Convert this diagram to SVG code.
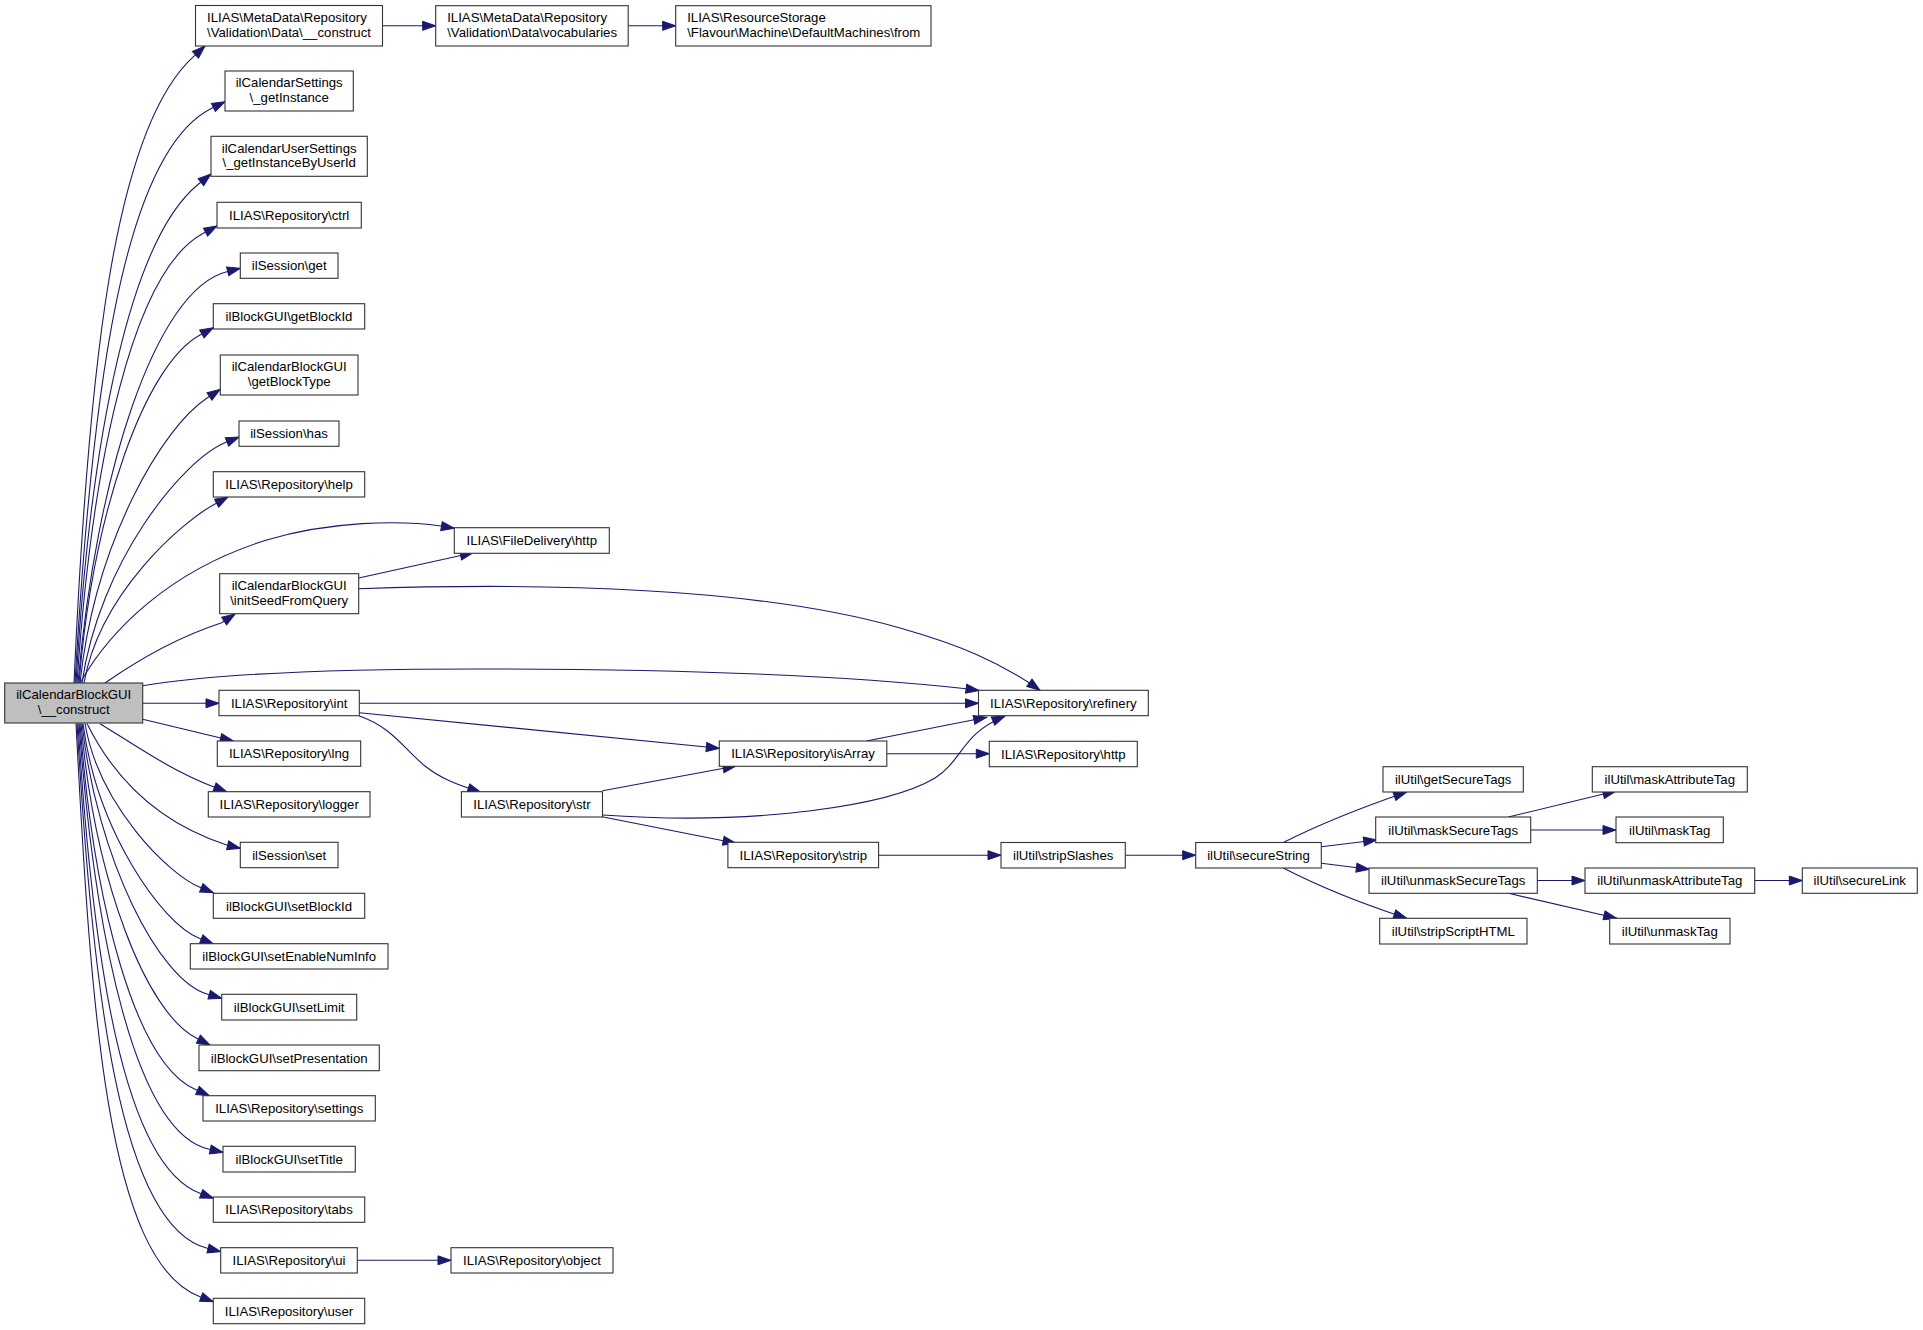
<svg xmlns="http://www.w3.org/2000/svg" width="1923" height="1330" viewBox="0 0 1923 1330">
<style>
.n rect{fill:#fff;stroke:#333;stroke-width:1.1}
.m rect{fill:#bfbfbf;stroke:#333;stroke-width:1.1}
text{font-family:"Liberation Sans",Arial,Helvetica,sans-serif;font-size:13.2px;fill:#000}
.c{text-anchor:middle}
.e path{fill:none;stroke:#191970;stroke-width:1.1;marker-end:url(#ah)}
</style>
<defs>
<marker id="ah" markerUnits="userSpaceOnUse" markerWidth="14" markerHeight="10" refX="13" refY="4.5" orient="auto" overflow="visible">
<path d="M0,0 L13,4.5 L0,9 Z" fill="#191970" stroke="#191970" stroke-width="1"/>
</marker>
</defs>
<rect width="1923" height="1330" fill="#fff"/>
<g class="e" id="edges">
<path d="M382.7,25.8 L435.7,25.8"/>
<path d="M628.2,25.8 L675.7,25.8"/>
<path d="M74,683 C88.2,370.1 113.2,130.4 192.7,57.3 L205,46"/>
<path d="M75,683 C91.4,395.7 121.7,152.9 211.7,108.3 L225,101.7"/>
<path d="M76,683 C90.7,433.7 130.5,239.3 198.3,184.3 L211,174"/>
<path d="M77,683 C92.2,458.2 133.2,270.6 203.3,233.3 L217,226"/>
<path d="M78,683 C95.8,477.4 154.5,289.8 226.7,271.7 L240.3,268.3"/>
<path d="M79,683 C93.5,509 145.1,365.1 200,335 L213.3,327.7"/>
<path d="M80,683 C95.2,540.7 162.5,427.6 206.7,398.3 L220.3,389.3"/>
<path d="M82,683 C99.3,562.7 181.8,460.3 226,442.3 L239,437"/>
<path d="M84,683 C99.7,593.5 181.8,521.9 215,504 L228,497"/>
<path d="M80,683 C110,630 170,570 266.7,540 C330,521 400,520 441,526 L454.3,528.3"/>
<path d="M105,683 C135,662 175,638 221.7,622.7 L235,614"/>
<path d="M142.7,685.7 C200,676 300,669 480,669 C700,669 850,676 966,688.7 L979,690.5"/>
<path d="M142.7,703.3 L219,703.3"/>
<path d="M142.7,719.3 L233.3,741"/>
<path d="M100,723.7 C135,745 170,770 213.3,786.7 L226.7,791.7"/>
<path d="M87,723.5 C110,770 150,820 226.7,845 L240.3,848.3"/>
<path d="M85,723.5 C98.8,805.4 168.5,874.5 200,887.3 L213.3,892.7"/>
<path d="M83,723.5 C97,830.9 160.9,922.7 199.3,938.3 L213.3,944"/>
<path d="M82,723.5 C97.1,858.9 158.8,980.3 207.7,994.3 L221.7,998.3"/>
<path d="M81,723.5 C94.9,880.9 145.8,1012.6 196.7,1038.3 L210,1045"/>
<path d="M80,723.5 C93.8,906.4 135.5,1062.7 195,1089.3 L209.3,1095.7"/>
<path d="M79,723.5 C94.6,936.4 135.3,1133.1 209.3,1149.3 L223,1152.3"/>
<path d="M78,723.5 C92.6,958.4 122.8,1164.3 200,1193.3 L213.3,1198.3"/>
<path d="M77,723.5 C92.6,986 118.2,1225.7 207.3,1248.3 L220.7,1251.7"/>
<path d="M76,723.5 C90.9,1010.1 106.7,1261.6 200,1296.7 L213.3,1301.7"/>
<path d="M358.7,578 L473.3,552.7"/>
<path d="M358.7,588.7 C560,582 760,588 900,628 C960,645 1000,662 1040,690.3"/>
<path d="M359.3,703.3 L978.5,703.3"/>
<path d="M359.3,712.7 L719.3,748.3"/>
<path d="M359.3,716 C392,727 405,750 425,766 C440,778 455,784 480.7,792.3"/>
<path d="M357.3,1260.3 L451,1260.3"/>
<path d="M602.5,790.7 L736,766"/>
<path d="M602.5,815 C760,826 890,805 935,778 C965,758 960,735 1005,716"/>
<path d="M602,816.7 L736,843.3"/>
<path d="M866.4,741 L986.7,717.3"/>
<path d="M886.8,753.7 L989.3,753.7"/>
<path d="M878.6,855.2 L1001,855.2"/>
<path d="M1125.3,855.2 L1195.7,855.2"/>
<path d="M1283.3,842.5 C1320,824 1360,808 1406.7,792"/>
<path d="M1321.3,846.7 L1376.7,840"/>
<path d="M1321.3,863.3 L1369.3,869.3"/>
<path d="M1283.3,868 C1320,887 1360,903 1406.7,918.3"/>
<path d="M1508.3,817 L1616,791"/>
<path d="M1530.7,830 L1616,830"/>
<path d="M1537.3,880.5 L1585,880.5"/>
<path d="M1508.3,893.3 L1616.7,918.3"/>
<path d="M1754.7,880.5 L1802.3,880.5"/>
</g>
<g class="m" id="n_main"><rect x="4.7" y="683" width="138" height="40"/><text class="c" x="73.7" y="699.2">ilCalendarBlockGUI</text><text class="c" x="73.7" y="713.9">\__construct</text></g>
<g class="n" id="n_meta"><rect x="195.5" y="5.5" width="187" height="40.5"/><text x="207" y="21.9">ILIAS\MetaData\Repository</text><text x="207" y="36.6">\Validation\Data\__construct</text></g>
<g class="n" id="n_vocab"><rect x="435.7" y="5.7" width="192.5" height="40.3"/><text x="447.2" y="22">ILIAS\MetaData\Repository</text><text x="447.2" y="36.7">\Validation\Data\vocabularies</text></g>
<g class="n" id="n_from"><rect x="675.7" y="5.7" width="255.3" height="40.3"/><text x="687.2" y="22">ILIAS\ResourceStorage</text><text x="687.2" y="36.7">\Flavour\Machine\DefaultMachines\from</text></g>
<g class="n" id="n_calset"><rect x="225" y="71" width="128.3" height="40"/><text class="c" x="289.2" y="87.2">ilCalendarSettings</text><text class="c" x="289.2" y="101.9">\_getInstance</text></g>
<g class="n" id="n_caluser"><rect x="211" y="136.3" width="156.3" height="40"/><text class="c" x="289.2" y="152.5">ilCalendarUserSettings</text><text class="c" x="289.2" y="167.2">\_getInstanceByUserId</text></g>
<g class="n" id="n_ctrl"><rect x="217" y="202.3" width="144.3" height="25.7"/><text class="c" x="289.2" y="219.9">ILIAS\Repository\ctrl</text></g>
<g class="n" id="n_get"><rect x="240.3" y="253" width="97.7" height="25.3"/><text class="c" x="289.2" y="270.4">ilSession\get</text></g>
<g class="n" id="n_getBlockId"><rect x="213.3" y="303.7" width="151.4" height="25.3"/><text class="c" x="289" y="321.1">ilBlockGUI\getBlockId</text></g>
<g class="n" id="n_getBlockType"><rect x="220.3" y="355" width="137.7" height="40"/><text class="c" x="289.2" y="371.2">ilCalendarBlockGUI</text><text class="c" x="289.2" y="385.9">\getBlockType</text></g>
<g class="n" id="n_has"><rect x="239" y="421" width="100" height="25.3"/><text class="c" x="289" y="438.4">ilSession\has</text></g>
<g class="n" id="n_help"><rect x="213.3" y="471.7" width="151.4" height="25.3"/><text class="c" x="289" y="489.1">ILIAS\Repository\help</text></g>
<g class="n" id="n_initSeed"><rect x="219.7" y="573.7" width="139" height="40"/><text class="c" x="289.2" y="589.9">ilCalendarBlockGUI</text><text class="c" x="289.2" y="604.6">\initSeedFromQuery</text></g>
<g class="n" id="n_int"><rect x="219" y="690.3" width="140.3" height="25.4"/><text class="c" x="289.2" y="707.7">ILIAS\Repository\int</text></g>
<g class="n" id="n_lng"><rect x="217.3" y="741" width="143.4" height="25.3"/><text class="c" x="289" y="758.4">ILIAS\Repository\lng</text></g>
<g class="n" id="n_logger"><rect x="208.3" y="791.7" width="161.7" height="25.3"/><text class="c" x="289.2" y="809.1">ILIAS\Repository\logger</text></g>
<g class="n" id="n_set"><rect x="240.3" y="842.3" width="97.7" height="25.4"/><text class="c" x="289.2" y="859.7">ilSession\set</text></g>
<g class="n" id="n_setBlockId"><rect x="213.3" y="893.3" width="151.4" height="25"/><text class="c" x="289" y="910.5">ilBlockGUI\setBlockId</text></g>
<g class="n" id="n_setEnable"><rect x="190.3" y="943.7" width="197.7" height="25.3"/><text class="c" x="289.2" y="961.1">ilBlockGUI\setEnableNumInfo</text></g>
<g class="n" id="n_setLimit"><rect x="221.7" y="994.3" width="135" height="25.7"/><text class="c" x="289.2" y="1011.9">ilBlockGUI\setLimit</text></g>
<g class="n" id="n_setPres"><rect x="199" y="1045" width="180.3" height="25.7"/><text class="c" x="289.2" y="1062.6">ilBlockGUI\setPresentation</text></g>
<g class="n" id="n_settings"><rect x="203" y="1095.7" width="172.3" height="25.3"/><text class="c" x="289.2" y="1113.1">ILIAS\Repository\settings</text></g>
<g class="n" id="n_setTitle"><rect x="223" y="1146.3" width="132.3" height="25.7"/><text class="c" x="289.2" y="1163.9">ilBlockGUI\setTitle</text></g>
<g class="n" id="n_tabs"><rect x="213.3" y="1197" width="151.4" height="25.3"/><text class="c" x="289" y="1214.4">ILIAS\Repository\tabs</text></g>
<g class="n" id="n_ui"><rect x="220.7" y="1247.7" width="136.6" height="25.3"/><text class="c" x="289" y="1265.1">ILIAS\Repository\ui</text></g>
<g class="n" id="n_user"><rect x="213.3" y="1298.3" width="151.4" height="25.4"/><text class="c" x="289" y="1315.7">ILIAS\Repository\user</text></g>
<g class="n" id="n_fdhttp"><rect x="454.3" y="527.7" width="155" height="25.6"/><text class="c" x="531.8" y="545.2">ILIAS\FileDelivery\http</text></g>
<g class="n" id="n_str"><rect x="461.4" y="791.7" width="141.1" height="25.3"/><text class="c" x="532" y="809.1">ILIAS\Repository\str</text></g>
<g class="n" id="n_object"><rect x="451" y="1247.7" width="162" height="25.3"/><text class="c" x="532" y="1265.1">ILIAS\Repository\object</text></g>
<g class="n" id="n_isArray"><rect x="719.3" y="741" width="167.5" height="25.3"/><text class="c" x="803" y="758.4">ILIAS\Repository\isArray</text></g>
<g class="n" id="n_strip"><rect x="727.9" y="842.3" width="150.7" height="25.4"/><text class="c" x="803.3" y="859.7">ILIAS\Repository\strip</text></g>
<g class="n" id="n_refinery"><rect x="978.5" y="690.3" width="169.8" height="25.4"/><text class="c" x="1063.4" y="707.7">ILIAS\Repository\refinery</text></g>
<g class="n" id="n_rhttp"><rect x="989.3" y="741.3" width="148" height="25.4"/><text class="c" x="1063.3" y="758.7">ILIAS\Repository\http</text></g>
<g class="n" id="n_stripSlashes"><rect x="1001" y="842.5" width="124.3" height="25.5"/><text class="c" x="1063.2" y="859.9">ilUtil\stripSlashes</text></g>
<g class="n" id="n_secureString"><rect x="1195.7" y="842.5" width="125.6" height="25.5"/><text class="c" x="1258.5" y="859.9">ilUtil\secureString</text></g>
<g class="n" id="n_getSecureTags"><rect x="1383" y="766.7" width="140.3" height="25.3"/><text class="c" x="1453.2" y="784.1">ilUtil\getSecureTags</text></g>
<g class="n" id="n_maskSecureTags"><rect x="1375.7" y="817" width="155" height="25.7"/><text class="c" x="1453.2" y="834.6">ilUtil\maskSecureTags</text></g>
<g class="n" id="n_unmaskSecureTags"><rect x="1369" y="868" width="168.3" height="25.3"/><text class="c" x="1453.2" y="885.4">ilUtil\unmaskSecureTags</text></g>
<g class="n" id="n_stripScriptHTML"><rect x="1379.7" y="918.3" width="147.3" height="25.7"/><text class="c" x="1453.3" y="935.9">ilUtil\stripScriptHTML</text></g>
<g class="n" id="n_maskAttributeTag"><rect x="1592.3" y="766.7" width="155" height="25.3"/><text class="c" x="1669.8" y="784.1">ilUtil\maskAttributeTag</text></g>
<g class="n" id="n_maskTag"><rect x="1616" y="817" width="107.3" height="25.7"/><text class="c" x="1669.7" y="834.6">ilUtil\maskTag</text></g>
<g class="n" id="n_unmaskAttributeTag"><rect x="1585" y="868" width="169.7" height="25.3"/><text class="c" x="1669.8" y="885.4">ilUtil\unmaskAttributeTag</text></g>
<g class="n" id="n_unmaskTag"><rect x="1609.7" y="918.3" width="120.3" height="25.7"/><text class="c" x="1669.8" y="935.9">ilUtil\unmaskTag</text></g>
<g class="n" id="n_secureLink"><rect x="1802.3" y="868" width="115" height="25.3"/><text class="c" x="1859.8" y="885.4">ilUtil\secureLink</text></g>
</svg>
